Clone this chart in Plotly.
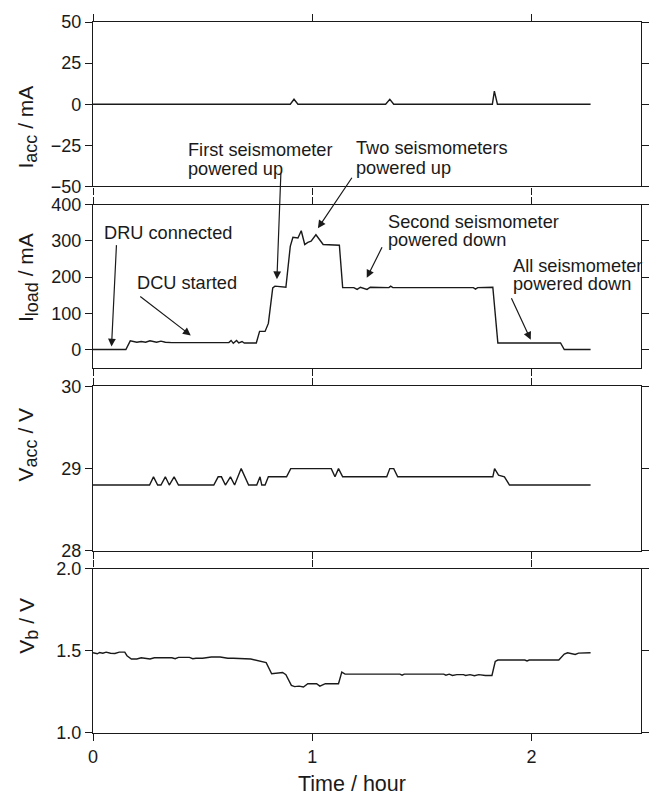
import plotly.graph_objects as go

# ---------------- data ----------------
t_iacc = [0, 0.900, 0.917, 0.935, 1.335, 1.354, 1.372, 1.822, 1.831, 1.845, 2.27]
iacc = [0, 0, 3, 0, 0, 3, 0, 0, 8, 0, 0]

t_iload = [0, 0.15, 0.17, 0.19, 0.20, 0.22, 0.24, 0.26, 0.28, 0.29, 0.31, 0.33, 0.36,
           0.62, 0.63, 0.64, 0.655, 0.665, 0.68, 0.69, 0.745, 0.76, 0.785, 0.80,
           0.82, 0.83, 0.88, 0.90, 0.912, 0.935, 0.95, 0.966, 0.98, 0.995, 1.017,
           1.05, 1.124, 1.139, 1.19, 1.205, 1.22, 1.235, 1.25, 1.265, 1.35, 1.358,
           1.368, 1.735, 1.745, 1.755, 1.824, 1.847, 2.133, 2.15, 2.27]
iload = [0, 0, 24, 22, 20, 22, 20, 24, 21, 20, 23, 20, 19,
         19, 25, 17, 25, 18, 22, 18, 18, 50, 50, 72,
         170, 175, 172, 285, 310, 308, 328, 290, 296, 299, 317,
         290, 288, 171, 171, 166, 172, 170, 166, 172, 171, 175,
         171, 171, 167, 171, 172, 18, 18, 0, 0]

t_vacc = [0, 0.258, 0.276, 0.295, 0.31, 0.33, 0.348, 0.37, 0.39, 0.551, 0.571,
          0.586, 0.604, 0.627, 0.646, 0.676, 0.71, 0.747, 0.762, 0.77, 0.785,
          0.80, 0.883, 0.902, 1.087, 1.104, 1.12, 1.139, 1.34, 1.354, 1.372,
          1.39, 1.824, 1.832, 1.85, 1.877, 1.90, 2.27]
vacc = [28.8, 28.8, 28.9, 28.8, 28.8, 28.9, 28.8, 28.9, 28.8, 28.8, 28.9,
        28.9, 28.8, 28.9, 28.8, 29.0, 28.8, 28.8, 28.9, 28.8, 28.8,
        28.9, 28.9, 29.0, 29.0, 28.9, 29.0, 28.9, 28.9, 29.0, 29.0,
        28.9, 28.9, 29.0, 28.92, 28.9, 28.8, 28.8]

t_vb = [0, 0.02, 0.03, 0.045, 0.06, 0.08, 0.10, 0.12, 0.145, 0.155, 0.175, 0.20,
        0.22, 0.245, 0.26, 0.28, 0.36, 0.375, 0.39, 0.44, 0.455, 0.47, 0.50,
        0.54, 0.58, 0.615, 0.64, 0.72, 0.76, 0.79, 0.815, 0.83, 0.865, 0.88,
        0.905, 0.92, 0.94, 0.96, 0.98, 1.02, 1.035, 1.06, 1.12, 1.135, 1.15,
        1.40, 1.41, 1.42, 1.60, 1.61, 1.625, 1.64, 1.66, 1.69, 1.70, 1.72,
        1.74, 1.76, 1.79, 1.82, 1.835, 1.847, 1.97, 1.98, 1.99, 2.125, 2.15,
        2.165, 2.18, 2.20, 2.215, 2.27]
vb = [1.488, 1.482, 1.49, 1.485, 1.492, 1.485, 1.484, 1.492, 1.492, 1.47, 1.45, 1.45,
      1.458, 1.455, 1.45, 1.458, 1.458, 1.452, 1.46, 1.46, 1.452, 1.455, 1.455,
      1.462, 1.462, 1.455, 1.455, 1.45, 1.44, 1.428, 1.36, 1.362, 1.368, 1.355,
      1.29, 1.282, 1.285, 1.28, 1.30, 1.30, 1.285, 1.30, 1.30, 1.37, 1.358,
      1.358, 1.352, 1.358, 1.358, 1.352, 1.358, 1.35, 1.355, 1.355, 1.35, 1.355,
      1.348, 1.355, 1.35, 1.35, 1.435, 1.444, 1.444, 1.438, 1.444, 1.444, 1.48,
      1.488, 1.482, 1.478, 1.486, 1.488]

x_ticks = [0, 1, 2]
iacc_ticks = [-50, -25, 0, 25, 50]
iload_ticks = [0, 100, 200, 300, 400]
vacc_ticks = [28, 29, 30]
vb_ticks = [1.0, 1.5, 2.0]

y_titles = ["I<sub><span style='font-size:18px'>acc</span></sub> / mA",
            "I<sub><span style='font-size:18px'>load</span></sub> / mA",
            "V<sub><span style='font-size:18px'>acc</span></sub> / V",
            "V<sub><span style='font-size:18px'>b</span></sub> / V"]
x_title = "Time / hour"

# annotation labels (text lines) : (text, t, value, axis)
label_lines = [
    ("DRU connected", 0.041, 322, 2),
    ("DCU started", 0.19, 183, 2),
    ("First seismometer", 0.425, -27.7, 1),
    ("powered up", 0.425, -39.2, 1),
    ("Two seismometers", 1.19, -26.9, 1),
    ("powered up", 1.19, -38.6, 1),
    ("Second seismometer", 1.338, 353, 2),
    ("powered down", 1.338, 303, 2),
    ("All seismometer", 1.907, 232, 2),
    ("powered down", 1.907, 182, 2),
]
# arrows: tip (t, value) on Iload panel, tail offset in px
arrow_tips = [(0.0845, 8), (0.446, 39), (0.839, 194), (1.026, 335), (1.249, 198), (1.997, 27)]
arrow_tails_px = [(5, -103), (-52, -40), (4, -107), (35, -52), (16, -32), (-20, -43)]

# ---------------- figure ----------------
INK = "#1a1a1a"
FONT = "Liberation Sans, Arial, Helvetica, sans-serif"
fig = go.Figure()
series = [(t_iacc, iacc), (t_iload, iload), (t_vacc, vacc), (t_vb, vb)]
for i, (tx, ty) in enumerate(series):
    n = "" if i == 0 else str(i + 1)
    fig.add_trace(go.Scatter(x=tx, y=ty, mode="lines", line=dict(color=INK, width=1.4),
                             xaxis="x" + n, yaxis="y" + n, showlegend=False,
                             hoverinfo="skip"))

H = 718.0
def dom(top_px, bot_px):
    return [(733 - bot_px) / H, (733 - top_px) / H]

domains = [dom(15, 181), dom(199.5, 364), dom(383, 549), dom(567, 733)]
yranges = [[-50, 50], [-50, 400], [28, 30], [1, 2]]
yticks = [iacc_ticks, iload_ticks, vacc_ticks, vb_ticks]
yfmts = ["", "", "", ".1f"]

common = dict(showline=True, linecolor=INK, linewidth=1.3, mirror="ticks",
              ticks="outside", ticklen=7, tickwidth=1.3, tickcolor=INK,
              showgrid=False, zeroline=False,
              tickfont=dict(family=FONT, size=18, color=INK))

layout = dict(width=661, height=797, margin=dict(l=93, r=15, t=15, b=64),
              paper_bgcolor="white", plot_bgcolor="white",
              font=dict(family=FONT, color=INK), showlegend=False)
for i in range(4):
    n = "" if i == 0 else str(i + 1)
    layout["xaxis" + n] = dict(common, domain=[0, 1], range=[0, 2.5], tickvals=x_ticks,
                               anchor="y" + n, showticklabels=(i == 3),
                               **({} if i == 0 else {"matches": "x"}))
    layout["yaxis" + n] = dict(common, domain=domains[i], range=yranges[i],
                               tickvals=yticks[i], tickformat=yfmts[i], anchor="x" + n)
fig.update_layout(**layout)

annots = []
title_y = [(733 - 121) / H, (733 - 273) / H, (733 - 442) / H, (733 - 625) / H]
for i, txt in enumerate(y_titles):
    annots.append(dict(text=txt, xref="paper", yref="paper", x=(27 - 93) / 553.0,
                       y=title_y[i], textangle=-90, showarrow=False,
                       xanchor="center", yanchor="middle",
                       font=dict(family=FONT, size=21, color=INK)))
annots.append(dict(text=x_title, xref="paper", yref="paper", x=(354 - 93) / 553.0,
                   y=(733 - 784.7) / H, showarrow=False, xanchor="center",
                   yanchor="middle", font=dict(family=FONT, size=21.5, color=INK)))
for txt, tx, vy, ax_i in label_lines:
    n = "" if ax_i == 1 else str(ax_i)
    annots.append(dict(text=txt, xref="x" + n, yref="y" + n, x=tx, y=vy,
                       showarrow=False, xanchor="left", yanchor="middle",
                       font=dict(family=FONT, size=18.2, color=INK)))
for (tx, vy), (dx, dy) in zip(arrow_tips, arrow_tails_px):
    annots.append(dict(text="", xref="x2", yref="y2", x=tx, y=vy, ax=dx, ay=dy,
                       showarrow=True, arrowhead=2, arrowsize=1.3, arrowwidth=1.2,
                       arrowcolor=INK, standoff=0))
fig.update_layout(annotations=annots)

fig.write_html("out.html")
